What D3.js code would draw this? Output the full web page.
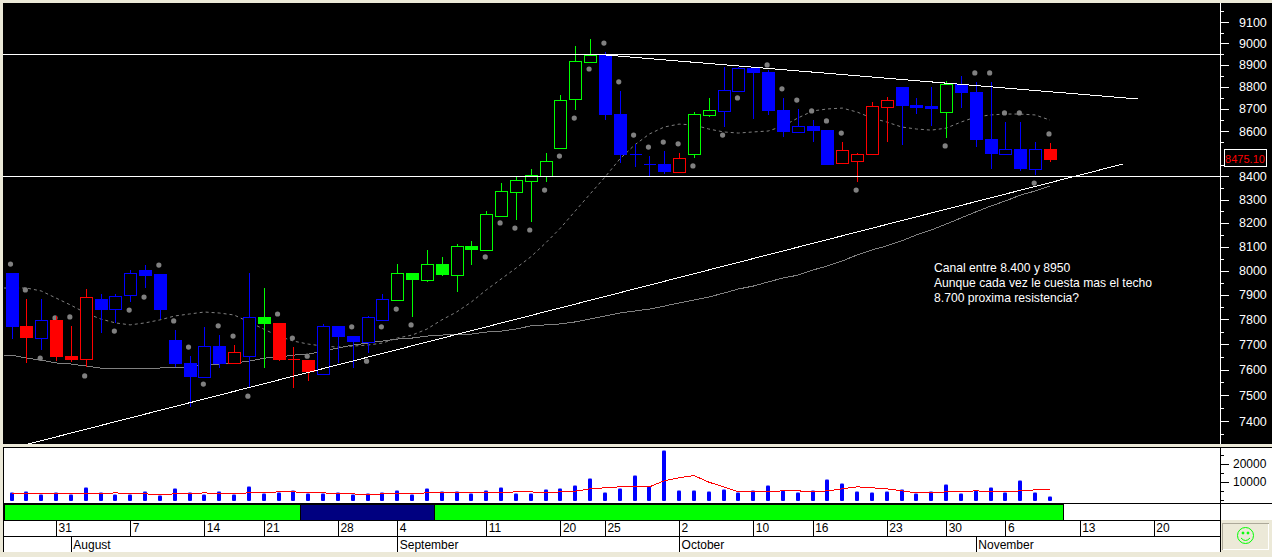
<!DOCTYPE html>
<html>
<head>
<meta charset="utf-8">
<script src="https://cdnjs.cloudflare.com/ajax/libs/d3/7.8.5/d3.min.js"></script>
<style>
  html, body { margin: 0; padding: 0; background: #ece9d8; overflow: hidden; }
  text { font-family: "Liberation Sans", Arial, sans-serif; }
</style>
</head>
<body>
<div id="chart"></div>
<script>
// candles, one entry per trading day
const opens = [7990,7774,7725,7798,7653,7641,7883,7842,7899,8002,7986,7717,7626,7571,7693,7626,7653,7810,7786,7641,7637,7582,7774,7733,7709,7798,7879,7990,7961,8027,7981,8103,8086,8230,8333,8380,8402,8525,8744,8913,8946,8676,8498,8454,8454,8419,8498,8672,8690,8780,8886,8867,8694,8596,8622,8604,8459,8468,8498,8708,8799,8717,8712,8685,8812,8776,8565,8498,8520,8432,8520];
const highs = [7990,7883,7883,7814,7774,7924,7903,7903,8002,8023,7986,7757,7653,7770,7737,7697,7990,7928,7786,7689,7637,7782,7774,7733,7814,7903,8027,7990,8086,8057,8111,8124,8251,8371,8397,8432,8503,8762,8987,9020,8960,8780,8543,8489,8511,8503,8685,8749,8890,8890,8886,8877,8749,8699,8649,8604,8551,8503,8730,8753,8799,8749,8799,8826,8849,8822,8822,8640,8640,8551,8547];
const lows = [7721,7626,7677,7633,7629,7610,7745,7786,7871,7928,7802,7610,7454,7571,7606,7626,7531,7606,7633,7527,7555,7582,7626,7606,7665,7798,7875,7810,7953,7977,7911,8023,8086,8230,8212,8204,8376,8525,8694,8913,8649,8459,8441,8402,8411,8419,8481,8663,8618,8780,8654,8672,8573,8596,8551,8450,8459,8376,8498,8551,8538,8676,8622,8569,8703,8529,8432,8498,8424,8406,8463];
const closes = [7774,7729,7798,7653,7641,7891,7842,7895,7990,7981,7842,7626,7575,7693,7626,7669,7810,7786,7641,7641,7594,7774,7733,7713,7810,7883,7990,7965,8027,7986,8103,8090,8238,8337,8384,8406,8468,8739,8918,8946,8676,8498,8498,8454,8424,8481,8676,8694,8785,8886,8867,8694,8600,8622,8604,8454,8516,8498,8712,8739,8717,8708,8703,8812,8776,8565,8503,8520,8437,8520,8476];
// colour state of each candle: b, r or g
const states = "b r b r r r b b b b b b b b b r b g r r r b b b b b g g g g g g g g g g g g g g b b b b b r g g b b b b b b b b r r r r b b b g b b b b b b r".split(" ");
const volumes = [3900,4450,2800,3900,2800,6700,3900,2800,2800,4450,2200,6100,3900,2800,4450,2800,7200,3300,3900,5000,3300,3300,3900,2800,3300,3900,5000,2800,6100,4450,4450,3300,5000,6700,3300,3300,5550,6100,7800,11700,3900,6100,13300,7200,27200,5000,5000,4450,5550,3900,5000,7800,5000,3900,5000,11100,8900,4450,3900,4450,5550,3300,4450,8300,3300,5000,6700,3900,10600,3900,1700];
const volumeAverage = [3150,3150,3150,3150,3150,3150,3150,3700,3150,3150,2600,3150,3150,3700,3150,3150,3700,3700,4260,4260,3700,3700,3150,3150,2600,3150,3150,3150,3700,3700,3700,3700,3700,3700,4260,4260,3700,4260,4630,5930,6480,7040,7040,7040,10370,12040,13330,9630,7040,4260,4260,4260,4820,4820,4260,4820,5930,7040,6480,5930,4820,3700,3700,4260,4260,4820,4260,4260,4820,5370,5370];
// grey dots, null where a day has none visible
const dots = [8027,7920,7645,7806,7810,7575,null,7753,7838,7891,8023,7794,7689,7543,7774,7733,7496,null,7822,7725,7653,null,null,7770,7633,7770,7842,7778,null,null,null,null,8057,8200,8178,8170,8341,8489,8658,8881,9001,8822,8582,8529,8551,8543,8446,null,8582,8749,null,8900,8790,8739,8690,8645,8591,8341,null,null,null,null,null,8534,null,8863,8863,8681,8681,8371,8587];
const shortAverage = [7928,7928,7916,7887,7858,7826,7802,7786,7778,7786,7798,7814,7822,7830,7826,7818,7790,7761,7733,7713,7701,7693,7689,7693,7697,7705,7725,7737,7761,7798,7830,7871,7920,7965,8010,8057,8115,8178,8251,8324,8397,8476,8538,8587,8618,8631,8627,8609,8596,8591,8596,8600,8622,8658,8690,8699,8703,8685,8658,8640,8618,8609,8604,8613,8640,8663,8672,8676,8676,8672,8649];
const longAverage = [7657,7645,7637,7626,7622,7614,7606,7606,7606,7606,7606,7610,7610,7618,7622,7626,7633,7645,7649,7657,7661,7673,7685,7697,7705,7713,7721,7725,7733,7737,7741,7741,7749,7753,7761,7774,7778,7782,7790,7802,7814,7826,7834,7842,7854,7867,7879,7891,7907,7924,7936,7953,7969,7981,8002,8019,8040,8065,8086,8103,8124,8149,8170,8195,8221,8247,8272,8294,8319,8337,8358];

// hand drawn lines: [day, price]
const supportLine = [[1.11, 7312], [74.9, 8454]];
const resistanceLine = [[40, 8946], [75.93, 8744]];
const channelLevels = [8950, 8400];
const lastPrice = 8475.10;

// axes, 8500 sits behind the last price tag
const priceTicks = [7400,7500,7600,7700,7800,7900,8000,8100,8200,8300,8400,8600,8700,8800,8900,9000,9100];
const priceMinorTicks = [7350,7450,7550,7650,7750,7850,7950,8050,8150,8250,8350,8450,8550,8650,8750,8850,8950,9050,9150];
const volumeTicks = [10000, 20000];
const volumeMinorTicks = [0, 5000, 15000, 25000];
const dayTicks = [3,8,13,17,22,26,32,37,40,45,50,54,59,63,67,72,77];
const dayLabels = ["31","7","14","21","28","4","11","20","25","2","10","16","23","30","6","13","20"];
const monthTicks = [4,26,45,65];
const monthLabels = ["August","September","October","November"];
// trend band under the volume: [from day, to day, state]
const bandStates = [[-0.44, 19.45, "up"], [19.45, 28.54, "flat"], [28.54, 70.94, "up"]];
const note = ["Canal entre 8.400 y 8950", "Aunque cada vez le cuesta mas el techo", "8.700 proxima resistencia?"];

const candleColor = { b: "#0000ff", r: "#ff0000", g: "#00ff00" };
const bandColor = { up: "#00ff00", flat: "#000080" };
const days = d3.range(opens.length);

const width = 1272, height = 557;
const panel = { left: 3, right: 1221, top: 3, bottom: 444 };

const svg = d3.select("#chart").append("svg")
    .attr("width", width)
    .attr("height", height)
    .style("display", "block");

svg.append("rect").attr("width", width).attr("height", height).attr("fill", "#ece9d8");

// scales
const x = d3.scaleLinear().domain([0, 70]).range([11.5, 1050]);
const y = d3.scaleLog().domain([7400, 9100]).range([421, 22]);
const yVol = d3.scaleLinear().domain([0, 20000]).range([499.5, 463.5]);
const px = v => Math.round(x(v)) + 0.5;

// price panel
svg.append("rect").attr("x", panel.left).attr("y", panel.top)
    .attr("width", width - panel.left).attr("height", panel.bottom - panel.top).attr("fill", "#000");

svg.append("clipPath").attr("id", "clip-main").append("rect")
    .attr("x", panel.left).attr("y", panel.top)
    .attr("width", panel.right - panel.left).attr("height", panel.bottom - panel.top);

const main = svg.append("g").attr("clip-path", "url(#clip-main)");

const line = d3.line().x(d => x(d[0])).y(d => y(d[1]));
const withLead = vals => [[-0.5, vals[0]]].concat(vals.map((v, i) => [i, v]));

// moving averages
main.append("path").datum(withLead(longAverage))
    .attr("d", line).attr("fill", "none").attr("stroke", "#808080").attr("shape-rendering", "crispEdges");
main.append("path").datum(withLead(shortAverage))
    .attr("d", line).attr("fill", "none").attr("stroke", "#808080").attr("stroke-dasharray", "3,3");

// dots
main.append("g").selectAll("circle")
    .data(days.filter(i => dots[i] !== null))
    .join("circle")
    .attr("cx", i => x(i) - 1)
    .attr("cy", i => y(dots[i]))
    .attr("r", 2.6)
    .attr("fill", "#808080");

// candles
const candles = main.append("g").attr("shape-rendering", "crispEdges")
    .selectAll("g").data(days).join("g");

candles.append("line")
    .attr("x1", px).attr("x2", px)
    .attr("y1", i => y(highs[i])).attr("y2", i => y(lows[i]))
    .attr("stroke", i => candleColor[states[i]]);

candles.filter(i => opens[i] !== closes[i]).append("rect")
    .attr("x", i => px(i) - 6)
    .attr("width", 12)
    .attr("y", i => Math.round(y(Math.max(opens[i], closes[i]))) + 0.5)
    .attr("height", i => Math.round(y(Math.min(opens[i], closes[i]))) - Math.round(y(Math.max(opens[i], closes[i]))))
    .attr("fill", i => closes[i] < opens[i] ? candleColor[states[i]] : "#000")
    .attr("stroke", i => candleColor[states[i]]);

// open equals close: a dash instead of a body (a rect of height 0 is not drawn)
candles.filter(i => opens[i] === closes[i]).append("line")
    .attr("x1", i => px(i) - 6).attr("x2", i => px(i) + 6)
    .attr("y1", i => Math.round(y(opens[i])) + 0.5).attr("y2", i => Math.round(y(opens[i])) + 0.5)
    .attr("stroke", i => candleColor[states[i]]);

// channel and trend lines
main.append("g").attr("shape-rendering", "crispEdges").selectAll("line")
    .data(channelLevels).join("line")
    .attr("x1", panel.left).attr("x2", panel.right)
    .attr("y1", d => Math.round(y(d)) + 0.5).attr("y2", d => Math.round(y(d)) + 0.5)
    .attr("stroke", "#fff");

main.append("g").selectAll("path")
    .data([supportLine, resistanceLine]).join("path")
    .attr("d", line).attr("fill", "none").attr("stroke", "#fff")
    .attr("shape-rendering", "crispEdges");

// comment on the chart
main.append("g").selectAll("text")
    .data(note).join("text")
    .attr("x", 934)
    .attr("y", (d, i) => 272 + i * 15)
    .attr("font-size", 12.15)
    .attr("fill", "#fff")
    .text(d => d);

// price axis
const priceAxis = svg.append("g").attr("transform", "translate(1220,0)")
    .call(d3.axisRight(y).tickValues(priceTicks).tickSize(9).tickPadding(10).tickFormat(d3.format("d")));
priceAxis.select(".domain").remove();
priceAxis.selectAll("line").attr("stroke", "#fff").attr("shape-rendering", "crispEdges");
priceAxis.selectAll("text").attr("fill", "#fff").attr("font-size", 12.5).attr("font-family", "Liberation Sans");

const priceMinor = svg.append("g").attr("transform", "translate(1220,0)")
    .call(d3.axisRight(y).tickValues(priceMinorTicks).tickSize(4).tickFormat(""));
priceMinor.select(".domain").remove();
priceMinor.selectAll("line").attr("stroke", "#fff").attr("shape-rendering", "crispEdges");

svg.append("line").attr("x1", 1220.5).attr("x2", 1220.5).attr("y1", panel.top).attr("y2", panel.bottom)
    .attr("stroke", "#fff").attr("shape-rendering", "crispEdges");

// last price tag
svg.append("rect").attr("x", 1224.5).attr("y", 149.5).attr("width", 42).attr("height", 17)
    .attr("fill", "#000").attr("stroke", "#fff").attr("shape-rendering", "crispEdges");
svg.append("text").attr("x", 1245).attr("y", y(lastPrice) + 3.5)
    .attr("text-anchor", "middle").attr("font-size", 11).attr("fill", "#ff0000")
    .text(lastPrice.toFixed(2));

// volume panel
svg.append("rect").attr("x", panel.left).attr("y", 447).attr("width", width - panel.left).attr("height", 56).attr("fill", "#fff");
svg.append("line").attr("x1", panel.left).attr("x2", width).attr("y1", 447.5).attr("y2", 447.5)
    .attr("stroke", "#000").attr("shape-rendering", "crispEdges");

svg.append("g").selectAll("rect")
    .data(days).join("rect")
    .attr("x", i => Math.round(x(i)) - 2)
    .attr("width", 4)
    .attr("y", i => yVol(volumes[i]))
    .attr("height", i => yVol(0) - yVol(volumes[i]) + 1.5)
    .attr("rx", 1)
    .attr("fill", "#0000ff");

svg.append("path").datum(volumeAverage)
    .attr("d", d3.line().x((d, i) => x(i)).y(d => yVol(d)))
    .attr("fill", "none").attr("stroke", "#ff0000").attr("shape-rendering", "crispEdges");

const volAxis = svg.append("g").attr("transform", "translate(1220,0)")
    .call(d3.axisRight(yVol).tickValues(volumeTicks).tickSize(9).tickPadding(4).tickFormat(d3.format("d")));
volAxis.select(".domain").remove();
volAxis.selectAll("line").attr("stroke", "#000").attr("shape-rendering", "crispEdges");
volAxis.selectAll("text").attr("fill", "#000").attr("font-size", 12).attr("font-family", "Liberation Sans");

const volMinor = svg.append("g").attr("transform", "translate(1220,0)")
    .call(d3.axisRight(yVol).tickValues(volumeMinorTicks).tickSize(4).tickFormat(""));
volMinor.select(".domain").remove();
volMinor.selectAll("line").attr("stroke", "#000").attr("shape-rendering", "crispEdges");

svg.append("line").attr("x1", 1220.5).attr("x2", 1220.5).attr("y1", 447).attr("y2", 503)
    .attr("stroke", "#000").attr("shape-rendering", "crispEdges");

// signal band
svg.append("rect").attr("x", panel.left).attr("y", 503).attr("width", width - panel.left).attr("height", 17).attr("fill", "#fff");
svg.append("g").attr("shape-rendering", "crispEdges").selectAll("rect")
    .data(bandStates).join("rect")
    .attr("x", d => x(d[0]))
    .attr("width", d => x(d[1]) - x(d[0]))
    .attr("y", 504)
    .attr("height", 16)
    .attr("fill", d => bandColor[d[2]])
    .attr("stroke", "#000");

// date rows
svg.append("rect").attr("x", panel.left).attr("y", 520).attr("width", 1217).attr("height", 32).attr("fill", "#fff");

const dayAxis = svg.append("g").attr("transform", "translate(0,520)")
    .call(d3.axisBottom(x).tickValues(dayTicks).tickSize(16).tickFormat((d, i) => dayLabels[i]));
dayAxis.select(".domain").remove();
dayAxis.selectAll("line").attr("stroke", "#000").attr("shape-rendering", "crispEdges");
dayAxis.selectAll("text").attr("text-anchor", "start").attr("x", 2).attr("y", 12).attr("dy", 0)
    .attr("fill", "#000").attr("font-size", 12).attr("font-family", "Liberation Sans");

const monthAxis = svg.append("g").attr("transform", "translate(0,536)")
    .call(d3.axisBottom(x).tickValues(monthTicks).tickSize(16).tickFormat((d, i) => monthLabels[i]));
monthAxis.select(".domain").remove();
monthAxis.selectAll("line").attr("stroke", "#000").attr("shape-rendering", "crispEdges");
monthAxis.selectAll("text").attr("text-anchor", "start").attr("x", 2).attr("y", 13).attr("dy", 0)
    .attr("fill", "#000").attr("font-size", 12).attr("font-family", "Liberation Sans");

// row and panel rules
svg.append("g").attr("stroke", "#000").attr("shape-rendering", "crispEdges").call(g => {
    g.append("line").attr("x1", panel.left).attr("x2", width).attr("y1", 503.5).attr("y2", 503.5);
    g.append("line").attr("x1", panel.left).attr("x2", 1221).attr("y1", 520.5).attr("y2", 520.5);
    g.append("line").attr("x1", panel.left).attr("x2", 1221).attr("y1", 536.5).attr("y2", 536.5);
    g.append("line").attr("x1", 3.5).attr("x2", 3.5).attr("y1", 447).attr("y2", 552);
    g.append("line").attr("x1", 1220.5).attr("x2", 1220.5).attr("y1", 503).attr("y2", 552);
});

// smiley button
svg.append("rect").attr("x", 1222.5).attr("y", 523.5).attr("width", 46).attr("height", 26)
    .attr("fill", "#ece9d8").attr("stroke", "#aca899").attr("shape-rendering", "crispEdges");
svg.append("path").attr("d", "M1222.5 549.5H1268.5V523.5").attr("fill", "none").attr("stroke", "#fff").attr("shape-rendering", "crispEdges");
const face = svg.append("g").attr("transform", "translate(1245.5,535.5)")
    .attr("fill", "none").attr("stroke", "#00ff00");
face.append("circle").attr("r", 8);
face.append("path").attr("d", "M-4.5 2.5Q0 7.5 4.5 2.5");
face.append("circle").attr("cx", -2.5).attr("cy", -2.5).attr("r", 1).attr("fill", "#00ff00");
face.append("circle").attr("cx", 2.5).attr("cy", -2.5).attr("r", 1).attr("fill", "#00ff00");
</script>
</body>
</html>
